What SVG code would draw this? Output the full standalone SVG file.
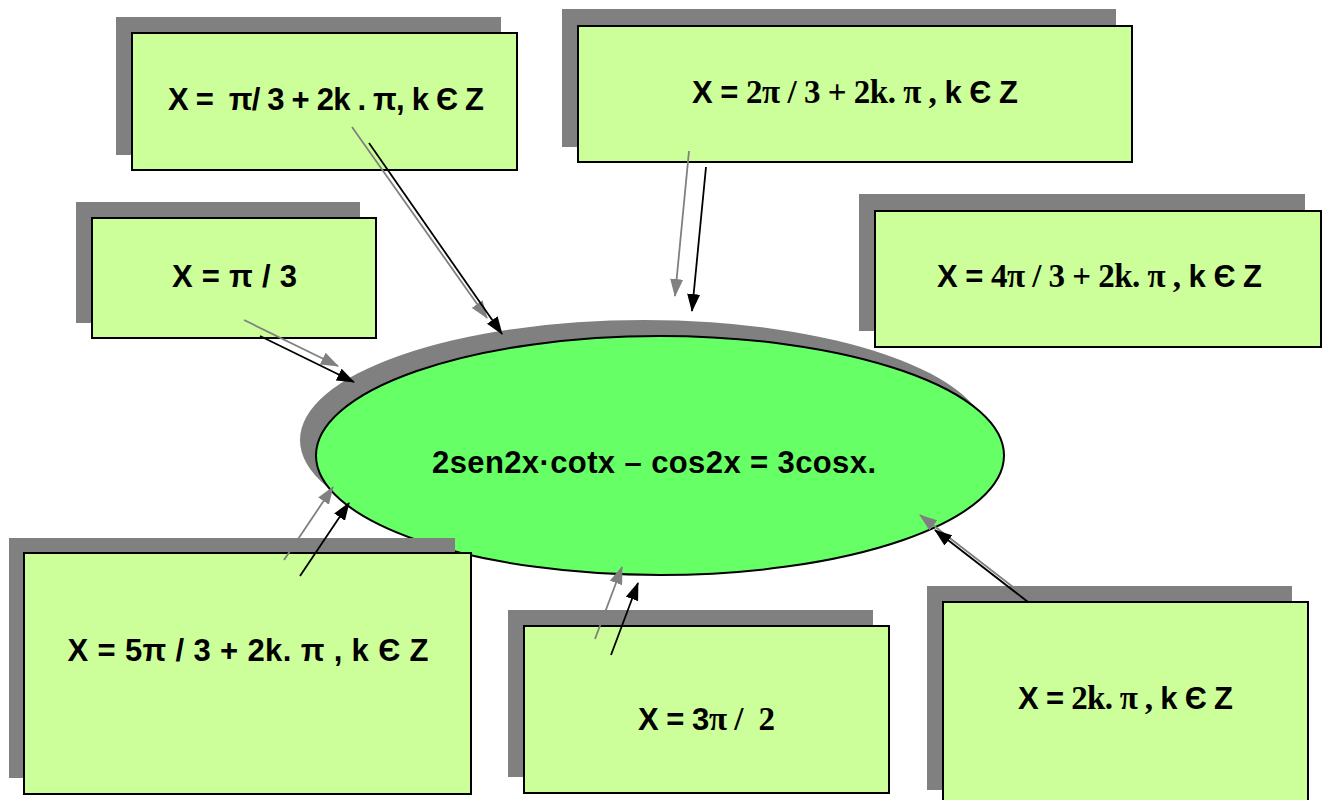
<svg xmlns="http://www.w3.org/2000/svg" width="1328" height="800" viewBox="0 0 1328 800">
<style>
.sh{fill:#808080;stroke:none}
.bx{fill:#CCFF99;stroke:#000;stroke-width:2}
.t{font-family:"Liberation Sans",Arial,sans-serif;font-weight:bold;font-size:31px;fill:#000;text-anchor:middle}
.s{font-family:"Liberation Serif","Times New Roman",serif;font-size:33px}
.cb{stroke:#000;stroke-width:1.8;fill:none;marker-end:url(#hb)}
.cg{stroke:#808080;stroke-width:1.8;fill:none;marker-end:url(#hg)}
</style>
<defs>
<marker id="hb" viewBox="0 0 18 13" refX="17" refY="6.5" markerWidth="18" markerHeight="13" markerUnits="userSpaceOnUse" orient="auto"><path d="M0,0 L18,6.5 L0,13 Z" fill="#000"/></marker>
<marker id="hg" viewBox="0 0 18 13" refX="17" refY="6.5" markerWidth="18" markerHeight="13" markerUnits="userSpaceOnUse" orient="auto"><path d="M0,0 L18,6.5 L0,13 Z" fill="#808080"/></marker>
</defs>
<rect width="1328" height="800" fill="#fff"/>
<g id="center">
<ellipse cx="644" cy="440" rx="344" ry="120" class="sh"/>
<ellipse cx="660" cy="455.5" rx="344" ry="119.5" fill="#66FF66" stroke="#000" stroke-width="2"/>
<text x="654" y="473" class="t" textLength="444">2sen2x·cotx – cos2x = 3cosx.</text>
</g>
<g id="n1">
<rect x="116" y="17" width="385" height="138" class="sh"/>
<rect x="132" y="33" width="385" height="137" class="bx"/>
<text x="326" y="110" class="t" textLength="316" xml:space="preserve">X =  π/ 3 + 2k . π, k Є Z</text>
</g>
<g id="n2">
<rect x="562" y="9" width="554" height="138" class="sh"/>
<rect x="578" y="26" width="554" height="136" class="bx"/>
<text x="855" y="103" class="t" textLength="326" xml:space="preserve">X = <tspan class="s">2π / 3 + 2k. π ,</tspan> k Є Z</text>
</g>
<g id="n3">
<rect x="76" y="202" width="284" height="121" class="sh"/>
<rect x="92" y="218" width="284" height="120" class="bx"/>
<text x="234.5" y="287" class="t" textLength="125">X = π / 3</text>
</g>
<g id="n4">
<rect x="859" y="194" width="446" height="137" class="sh"/>
<rect x="875" y="211" width="446" height="136" class="bx"/>
<text x="1099.5" y="287" class="t" textLength="325" xml:space="preserve">X = <tspan class="s">4π / 3 + 2k. π ,</tspan> k Є Z</text>
</g>
<g id="n5">
<rect x="9" y="538" width="446" height="240" class="sh"/>
<rect x="24" y="553" width="447" height="241" class="bx"/>
<text x="248" y="661" class="t" textLength="361">X = 5π / 3 + 2k. π , k Є Z</text>
</g>
<g id="n6">
<rect x="508" y="610" width="365" height="167" class="sh"/>
<rect x="524" y="626" width="365" height="167" class="bx"/>
<text x="706.5" y="730" class="t" textLength="137" xml:space="preserve">X = 3<tspan class="s">π /  2</tspan></text>
</g>
<g id="n7">
<rect x="927" y="586" width="365" height="204" class="sh"/>
<rect x="943" y="602" width="365" height="210" class="bx"/>
<text x="1125.5" y="709" class="t" textLength="215" xml:space="preserve">X = <tspan class="s">2k. π ,</tspan> k Є Z</text>
</g>
<g id="connectors">
<line x1="352" y1="127" x2="487" y2="318" class="cg"/>
<line x1="369" y1="143" x2="502" y2="334" class="cb"/>
<line x1="689" y1="151" x2="675" y2="296" class="cg"/>
<line x1="706" y1="167" x2="692" y2="311" class="cb"/>
<line x1="244" y1="320" x2="338" y2="366" class="cg"/>
<line x1="260" y1="336" x2="354" y2="382" class="cb"/>
<line x1="284" y1="560" x2="333" y2="487" class="cg"/>
<line x1="300" y1="576" x2="349" y2="503" class="cb"/>
<line x1="595" y1="639" x2="622" y2="567" class="cg"/>
<line x1="611" y1="655" x2="638" y2="583" class="cb"/>
<line x1="1013" y1="587" x2="920" y2="515" class="cg"/>
<line x1="1028" y1="602" x2="935" y2="530" class="cb"/>
</g>
</svg>
